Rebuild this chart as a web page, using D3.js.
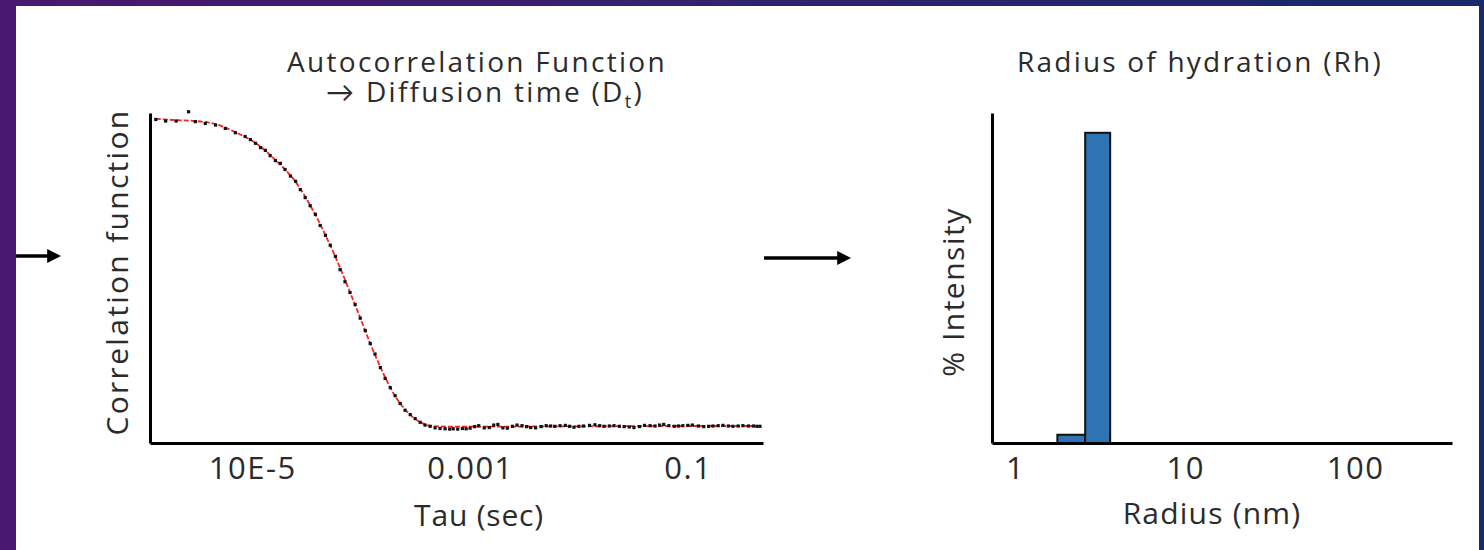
<!DOCTYPE html>
<html>
<head>
<meta charset="utf-8">
<script src="https://cdn.jsdelivr.net/npm/d3@7"></script>
<style>
    html, body { margin: 0; padding: 0; overflow: hidden; }
    svg { display: block; }
    text { font-family: "Open Sans", Lato, sans-serif; fill: #2b2b2b; }
</style>
</head>
<body>
<svg id="chart"></svg>
<script>
let W = 1484;
let H = 550;

// autocorrelation: measured points (tau in sec, G normalised)
let dataTau = [1.3e-6, 1.6e-6, 2.0e-6, 2.6e-6, 3.0e-6, 3.7e-6, 4.6e-6, 5.65e-6, 7.0e-6, 8.6e-6,
    9.6e-6, 1.07e-5, 1.19e-5, 1.32e-5, 1.46e-5, 1.63e-5, 1.81e-5, 2.0e-5, 2.24e-5, 2.5e-5,
    2.76e-5, 3.06e-5, 3.4e-5, 3.8e-5, 4.2e-5, 4.7e-5, 5.2e-5, 5.8e-5, 6.4e-5, 7.1e-5,
    7.9e-5, 8.8e-5, 9.8e-5, 1.09e-4, 1.21e-4, 1.34e-4, 1.5e-4, 1.66e-4, 1.85e-4, 2.05e-4,
    2.28e-4, 2.53e-4, 2.82e-4, 3.13e-4, 3.48e-4, 3.86e-4, 4.3e-4, 4.77e-4, 5.3e-4, 5.9e-4,
    6.5e-4, 7.0e-4, 7.7e-4, 8.5e-4, 9.2e-4, 1.0e-3, 1.1e-3, 1.2e-3, 1.35e-3, 1.5e-3,
    1.65e-3, 1.8e-3, 2.0e-3, 2.2e-3, 2.45e-3, 2.7e-3, 3.0e-3, 3.3e-3, 3.6e-3, 4.0e-3,
    4.5e-3, 5.0e-3, 5.5e-3, 6.0e-3, 6.7e-3, 7.5e-3, 8.2e-3, 9.0e-3, 0.010, 0.011,
    0.0125, 0.014, 0.0155, 0.017, 0.019, 0.021, 0.0235, 0.026, 0.029, 0.032,
    0.036, 0.040, 0.045, 0.050, 0.055, 0.060, 0.067, 0.075, 0.082, 0.090,
    0.10, 0.11, 0.125, 0.14, 0.155, 0.17, 0.19, 0.21, 0.235, 0.26,
    0.29, 0.32, 0.36, 0.40, 0.43, 0.46];
let dataG = [0.995, 0.99, 0.99, 1.02, 0.988, 0.982, 0.977, 0.966, 0.952, 0.94,
    0.93, 0.918, 0.904, 0.895, 0.878, 0.862, 0.853, 0.833, 0.812, 0.795,
    0.768, 0.742, 0.716, 0.688, 0.652, 0.62, 0.588, 0.552, 0.509, 0.47,
    0.435, 0.396, 0.352, 0.312, 0.27, 0.236, 0.192, 0.157, 0.127, 0.101,
    0.076, 0.054, 0.04, 0.027, 0.015, 0.006, 0.002, -0.003, -0.005, -0.006,
    -0.007, -0.006, -0.007, -0.005, -0.006, -0.004, 0.001, 0.004, -0.003, -0.002,
    0.006, 0.008, -0.003, -0.004, 0.002, 0.006, 0.004, 0.001, -0.002, -0.003,
    0.001, 0.004, 0.003, 0.002, 0.004, 0.005, 0.002, -0.001, 0.002, 0.003,
    0.005, 0.007, 0.004, 0.002, 0.003, 0.004, 0.002, 0.001, 0.000, -0.002,
    0.001, 0.005, 0.004, 0.003, 0.006, 0.008, 0.004, 0.002, 0.003, 0.004,
    0.005, 0.006, 0.003, 0.001, 0.002, 0.003, 0.004, 0.005, 0.003, 0.002,
    0.003, 0.004, 0.003, 0.003, 0.002, 0.002];

// fitted curve
let fitTau = [1.3e-6, 2.0e-6, 3.0e-6, 4.6e-6, 7.0e-6, 1.07e-5, 1.63e-5, 2.5e-5, 3.8e-5, 5.8e-5,
    8.8e-5, 1.34e-4, 2.05e-4, 3.13e-4, 4.77e-4, 7.0e-4, 1.0e-3, 0.01, 0.1, 0.49];
let fitG = [0.997, 0.993, 0.99, 0.98, 0.954, 0.919, 0.864, 0.793, 0.686, 0.55,
    0.395, 0.233, 0.1, 0.026, 0.002, 0.001, 0.001, 0.002, 0.003, 0.003];

let tauTicks = [1e-5, 1e-3, 0.1];
let tauTickLabels = ["10E-5", "0.001", "0.1"];

// size distribution
let binEdges = [1.77, 2.58, 3.62];
let intensity = [2.5, 94];
let radiusTicks = [1, 10, 100];
let radiusTickLabels = ["1", "10", "100"];

let svg = d3.select("#chart").attr("width", W).attr("height", H);

let defs = svg.append("defs");
let grad = defs.append("linearGradient").attr("id", "bg").attr("x1", "0").attr("x2", "1").attr("y1", "0").attr("y2", "0");
grad.append("stop").attr("offset", "0%").attr("stop-color", "#4a1870");
grad.append("stop").attr("offset", "100%").attr("stop-color", "#182a6c");

defs.append("marker")
    .attr("id", "head")
    .attr("viewBox", "0 0 10 10")
    .attr("refX", 2).attr("refY", 5)
    .attr("markerWidth", 4).attr("markerHeight", 4)
    .attr("orient", "auto")
    .append("path").attr("d", "M0,0 L10,5 L0,10 Z").attr("fill", "#000");

svg.append("rect").attr("width", W).attr("height", H).attr("fill", "url(#bg)");
svg.append("rect").attr("x", 16).attr("y", 6).attr("width", 1463).attr("height", 600).attr("fill", "#fff");

// arrows between panels
svg.append("line").attr("x1", 16).attr("x2", 50).attr("y1", 256).attr("y2", 256)
    .attr("stroke", "#000").attr("stroke-width", 3.5).attr("marker-end", "url(#head)");
svg.append("line").attr("x1", 764).attr("x2", 840).attr("y1", 258).attr("y2", 258)
    .attr("stroke", "#000").attr("stroke-width", 3.5).attr("marker-end", "url(#head)");

// ---- left chart ----
let x1 = d3.scaleLog().domain([1.15e-6, 0.49]).range([150, 763]);
let y1 = d3.scaleLinear().domain([-0.052, 1.016]).range([443, 113]);

let axisX1 = d3.axisBottom(x1)
    .tickValues(tauTicks)
    .tickFormat(function (d, i) { return tauTickLabels[i]; })
    .tickSize(0).tickPadding(14);

let gx1 = svg.append("g").attr("transform", "translate(0,443)").call(axisX1);
let gy1 = svg.append("g").attr("transform", "translate(150,0)").call(d3.axisLeft(y1).tickValues([]).tickSize(0));

let fitLine = d3.line()
    .x(function (d) { return x1(d[0]); })
    .y(function (d) { return y1(d[1]); })
    .curve(d3.curveMonotoneX);

svg.append("path")
    .datum(d3.zip(fitTau, fitG))
    .attr("d", fitLine)
    .attr("fill", "none")
    .attr("stroke", "#ff2020")
    .attr("stroke-width", 1.8)
    .attr("stroke-dasharray", "5,2");

svg.selectAll("rect.dot").data(d3.zip(dataTau, dataG)).enter().append("rect")
    .attr("class", "dot")
    .attr("x", function (d) { return x1(d[0]) - 1.6; })
    .attr("y", function (d) { return y1(d[1]) - 1.6; })
    .attr("width", 3.2).attr("height", 3.2)
    .attr("fill", "#111");

let t1 = svg.append("text").attr("text-anchor", "middle")
    .style("font-size", "28px").style("letter-spacing", "2.3px");
t1.append("tspan").attr("x", 477).attr("y", 72).text("Autocorrelation Function");
let l2 = t1.append("tspan").attr("x", 485).attr("y", 102);
l2.append("tspan").text("\u2192 Diffusion time (D");
l2.append("tspan").attr("dy", 6).style("font-size", "18px").text("t");
l2.append("tspan").attr("dy", -6).text(")");

svg.append("text").attr("x", 479).attr("y", 526).attr("text-anchor", "middle")
    .style("font-size", "30px").style("letter-spacing", "0.8px").text("Tau (sec)");
svg.append("text").attr("transform", "translate(128,272) rotate(-90)").attr("text-anchor", "middle")
    .style("font-size", "30px").style("letter-spacing", "2.3px").text("Correlation function");

// ---- right chart ----
let x2 = d3.scaleLog().domain([0.73, 372]).range([992, 1452]);
let y2 = d3.scaleLinear().domain([0, 100]).range([443, 113]);

let bins = intensity.map(function (v, i) { return { x0: binEdges[i], x1: binEdges[i + 1], v: v }; });

svg.selectAll("rect.bar").data(bins).enter().append("rect")
    .attr("class", "bar")
    .attr("x", function (d) { return x2(d.x0); })
    .attr("y", function (d) { return y2(d.v); })
    .attr("width", function (d) { return x2(d.x1) - x2(d.x0); })
    .attr("height", function (d) { return y2(0) - y2(d.v); })
    .attr("fill", "#2e74b5")
    .attr("stroke", "#111")
    .attr("stroke-width", 2);

let axisX2 = d3.axisBottom(x2)
    .tickValues(radiusTicks)
    .tickFormat(function (d, i) { return radiusTickLabels[i]; })
    .tickSize(0).tickPadding(14);

let gx2 = svg.append("g").attr("transform", "translate(0,443)").call(axisX2);
let gy2 = svg.append("g").attr("transform", "translate(992,0)").call(d3.axisLeft(y2).tickValues([]).tickSize(0));

svg.append("text").attr("x", 1200).attr("y", 72).attr("text-anchor", "middle")
    .style("font-size", "28px").style("letter-spacing", "2.2px").text("Radius of hydration (Rh)");
svg.append("text").attr("x", 1212).attr("y", 524).attr("text-anchor", "middle")
    .style("font-size", "30px").style("letter-spacing", "1.2px").text("Radius (nm)");
svg.append("text").attr("transform", "translate(964,292) rotate(-90)").attr("text-anchor", "middle")
    .style("font-size", "30px").style("letter-spacing", "1.5px").text("% Intensity");

// axis styling
[gx1, gy1, gx2, gy2].forEach(function (g) {
    g.select(".domain").attr("stroke", "#000").attr("stroke-width", 3);
    g.selectAll("text").style("font-size", "31px").style("letter-spacing", "1.5px")
        .style("font-family", "'Open Sans', sans-serif").attr("fill", "#2b2b2b");
});
</script>
</body>
</html>
